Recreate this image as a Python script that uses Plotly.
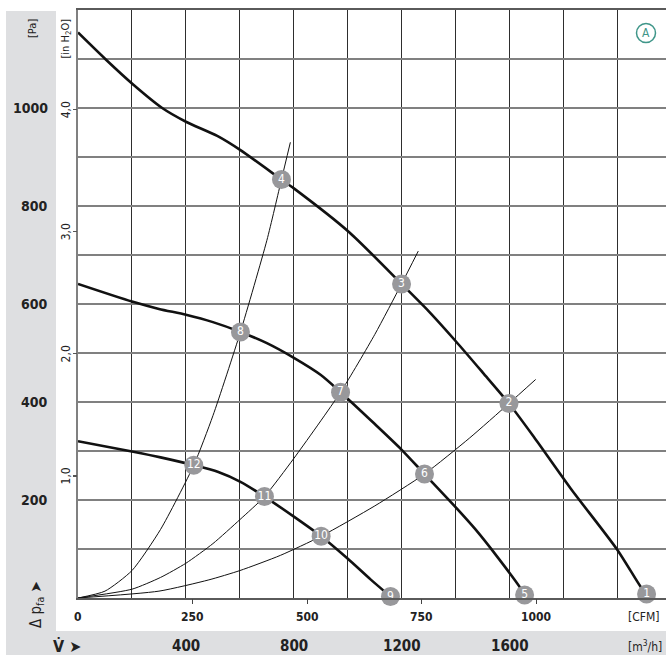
import plotly.graph_objects as go

# ---------------- data ----------------
# fan characteristic curves: flow [m3/h], pressure [Pa]
qA = [0, 101, 200, 312, 400, 516, 602, 754, 800, 1004, 1199, 1300, 1400, 1500, 1597, 1689, 1825, 1999, 2085, 2107]
pA = [1154, 1100, 1050, 1000, 972, 943, 914, 854, 836, 747, 641, 585, 524, 460, 397, 329, 224, 98, 23, 8]

qB = [0, 200, 300, 400, 500, 602, 700, 800, 900, 973, 1100, 1195, 1284, 1400, 1473, 1554, 1640, 1655]
pB = [641, 605, 590, 578, 563, 543, 520, 490, 455, 420, 355, 305, 253, 185, 140, 84, 20, 6]

qC = [0, 200, 306, 429, 520, 602, 691, 800, 901, 1000, 1084, 1158]
pC = [320, 299, 287, 271, 257, 237, 207, 166, 126, 80, 38, 3]

# system (resistance) curves
qS1 = [0, 100, 200, 306, 429, 500, 602, 700, 754, 787]
pS1 = [0, 14, 56, 140, 271, 372, 543, 730, 854, 930]
qS2 = [0, 200, 306, 400, 500, 600, 691, 800, 973, 1100, 1199, 1261]
pS2 = [0, 18, 42, 71, 111, 160, 207, 285, 420, 538, 641, 708]
qS3 = [0, 300, 485, 600, 750, 901, 1100, 1284, 1450, 1597, 1696]
pS3 = [0, 14, 37, 56, 87, 126, 188, 253, 326, 397, 446]

# operating points
op_q = [2107, 1597, 1199, 754, 1655, 1284, 973, 602, 1158, 901, 691, 429]
op_p = [8, 397, 641, 854, 6, 253, 420, 543, 3, 126, 207, 271]
op_lbl = ["1", "2", "3", "4", "5", "6", "7", "8", "9", "10", "11", "12"]

# tick labels
pa_ticks = [200, 400, 600, 800, 1000]
inh2o_ticks = [1.0, 2.0, 3.0, 4.0]
inh2o_lbls = ["1,0", "2,0", "3,0", "4,0"]
cfm_ticks = [0, 250, 500, 750, 1000]
m3h_ticks = [400, 800, 1200, 1600]

CFM_TO_M3H = 1.699
INH2O_TO_PA = 249.09
X_MAX = 2179
Y_MAX = 1200

# ---------------- layout geometry ----------------
W, H = 666, 655
L, R, T, B = 78, 0, 10, 57
PW, PH = W - L - R, H - T - B


def px(xp):
    return (xp - L) / PW


def py(yp):
    return (H - B - yp) / PH


FONT = "DejaVu Sans Condensed, Liberation Sans Narrow, sans-serif"
DARK = "#222222"

fig = go.Figure()

thin = dict(color="#111111", width=1)
for qs, ps in [(qS1, pS1), (qS2, pS2), (qS3, pS3)]:
    fig.add_trace(go.Scatter(x=qs, y=ps, mode="lines", line=dict(shape="spline", smoothing=0.6, **thin),
                             hoverinfo="skip", showlegend=False))

thick = dict(color="#111111", width=2.6)
for qs, ps in [(qA, pA), (qB, pB), (qC, pC)]:
    fig.add_trace(go.Scatter(x=qs, y=ps, mode="lines", line=dict(shape="spline", smoothing=0.7, **thick),
                             hoverinfo="skip", showlegend=False))

fig.add_trace(go.Scatter(x=op_q, y=op_p, mode="markers+text", text=op_lbl,
                         textposition="middle center",
                         textfont=dict(family=FONT, size=12, color="white"),
                         marker=dict(size=19, color="#98989b", line=dict(width=0)),
                         hoverinfo="skip", showlegend=False, cliponaxis=False))

# helper traces to activate the secondary axes
fig.add_trace(go.Scatter(x=[None], y=[None], xaxis="x2", yaxis="y", showlegend=False))
fig.add_trace(go.Scatter(x=[None], y=[None], xaxis="x", yaxis="y2", showlegend=False))

shapes = [
    # gray L-shaped frame band
    dict(type="rect", xref="paper", yref="paper", x0=px(6), x1=px(56), y0=py(631), y1=py(11),
         fillcolor="#dedfe1", line=dict(width=0), layer="below"),
    dict(type="rect", xref="paper", yref="paper", x0=px(6), x1=px(666), y0=py(655), y1=py(631),
         fillcolor="#dedfe1", line=dict(width=0), layer="below"),
    # circled A
    dict(type="circle", xref="paper", yref="paper", x0=px(636.5), x1=px(655.5), y0=py(42.5), y1=py(23.5),
         line=dict(color="#3f9689", width=1.5)),
]

big = dict(family=FONT, size=14, color=DARK, weight="bold")
small = dict(family=FONT, size=12, color=DARK)
C = dict(showarrow=False, xanchor="center", yanchor="middle")

ann = []
for v in pa_ticks:
    ann.append(dict(x=px(50), y=v, xref="paper", yref="y", text=str(v), showarrow=False,
                    xanchor="right", yanchor="middle", font=big))
for v, t in zip(inh2o_ticks, inh2o_lbls):
    ann.append(dict(x=px(65.5), y=v, xref="paper", yref="y2", text=t, textangle=-90, font=small, **C))
for v in cfm_ticks:
    ann.append(dict(x=v, y=py(617), xref="x2", yref="paper", text=str(v),
                    font=dict(small, weight="bold"), **C))
for v in m3h_ticks:
    ann.append(dict(x=v, y=py(646), xref="x", yref="paper", text=str(v), font=dict(big, size=15), **C))

ann += [
    dict(x=px(32.5), y=py(28.5), xref="paper", yref="paper", text="[Pa]", textangle=-90,
         font=dict(small, size=11), **C),
    dict(x=px(65.5), y=py(39), xref="paper", yref="paper", text="[in H<sub>2</sub>O]",
         textangle=-90, font=dict(small, size=11), **C),
    dict(x=px(36), y=py(605), xref="paper", yref="paper", text="Δ p<sub>fa</sub> ➤",
         textangle=-90, font=dict(small, size=15), **C),
    dict(x=px(644), y=py(617), xref="paper", yref="paper", text="[CFM]", font=small, **C),
    dict(x=px(645), y=py(646), xref="paper", yref="paper", text="[m<sup>3</sup>/h]", font=small, **C),
    dict(x=px(67), y=py(646), xref="paper", yref="paper", text="V̇ ➤", font=dict(big, size=16), **C),
    dict(x=px(646), y=py(33), xref="paper", yref="paper", text="A",
         font=dict(family=FONT, size=12, color="#3f9689"), **C),
]

fig.update_layout(
    width=W, height=H,
    margin=dict(l=L, r=R, t=T, b=B, pad=0),
    paper_bgcolor="white", plot_bgcolor="white",
    showlegend=False,
    xaxis=dict(range=[0, X_MAX], tick0=0, dtick=200, showgrid=True, gridcolor="#2e2e2e", gridwidth=1,
               showticklabels=False, ticks="", zeroline=False, showline=True, linecolor="#5a5a5a",
               linewidth=2, mirror=True, fixedrange=True),
    yaxis=dict(range=[0, Y_MAX], tick0=0, dtick=100, showgrid=True, gridcolor="#808080", gridwidth=2,
               showticklabels=False, ticks="", zeroline=False, showline=True, linecolor="#808080",
               linewidth=2, fixedrange=True),
    xaxis2=dict(overlaying="x", anchor="y", side="bottom", range=[0, X_MAX / CFM_TO_M3H],
                tickvals=cfm_ticks[1:], ticks="outside", ticklen=5, tickwidth=1.2, tickcolor="#444",
                showticklabels=False, showgrid=False, showline=False, zeroline=False),
    yaxis2=dict(overlaying="y", anchor="x", side="left", range=[0, Y_MAX / INH2O_TO_PA],
                tickvals=inh2o_ticks, ticks="outside", ticklen=4, tickwidth=1.2, tickcolor="#555",
                showticklabels=False, showgrid=False, showline=False, zeroline=False),
    shapes=shapes,
    annotations=ann,
)

fig.write_html("out.html", config={"displayModeBar": False, "staticPlot": True},
               post_script="document.body.style.margin='0';document.body.style.overflow='hidden';")
